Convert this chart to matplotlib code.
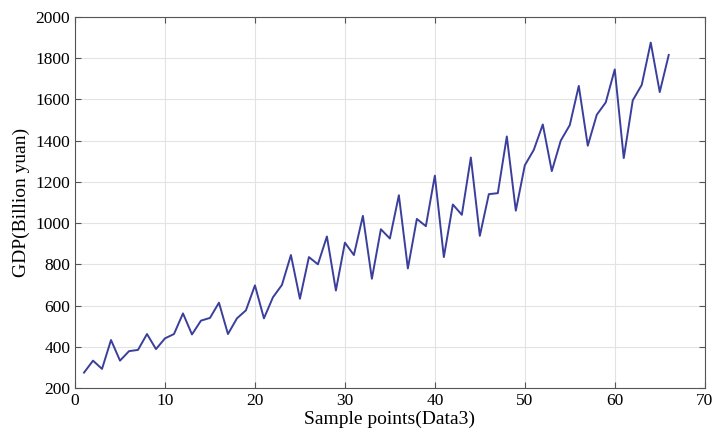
import numpy as np
import matplotlib.pyplot as plt

plt.rcParams['font.family'] = ['Liberation Serif', 'DejaVu Serif']

# GDP values (billion yuan)
sample_points = list(range(1, 67))
gdp = [275, 333, 293, 433, 333, 379, 385, 462, 389, 441,
       462, 562, 460, 527, 540, 614, 462, 538, 577, 698,
       538, 640, 700, 845, 633, 835, 800, 935, 673, 905,
       845, 1035, 730, 970, 925, 1135, 780, 1020, 985, 1230,
       835, 1090, 1040, 1318, 938, 1140, 1145, 1420, 1060, 1280,
       1355, 1478, 1252, 1400, 1475, 1665, 1375, 1525, 1585, 1745,
       1315, 1595, 1670, 1875, 1635, 1815]

fig = plt.figure(figsize=(7.18, 4.42), dpi=100)
ax = fig.add_axes([0.1045, 0.122, 0.877, 0.84])

ax.plot(sample_points, gdp, color='#3b3f9c', linewidth=1.4)

ax.set_xlim(0, 70)
ax.set_ylim(200, 2000)
ax.set_xticks(np.arange(0, 71, 10))
ax.set_yticks(np.arange(200, 2001, 200))
ax.grid(True, color='#e3e3e3', linewidth=0.8)
ax.set_axisbelow(True)
ax.tick_params(direction='in', top=True, right=True, labelsize=12.5,
               color='#555555', length=4)
for s in ax.spines.values():
    s.set_color('#555555')

ax.set_xlabel('Sample points(Data3)', fontsize=14, labelpad=1)
ax.set_ylabel('GDP(Billion yuan)', fontsize=14, labelpad=4)

fig.savefig('out.png', dpi=100)
